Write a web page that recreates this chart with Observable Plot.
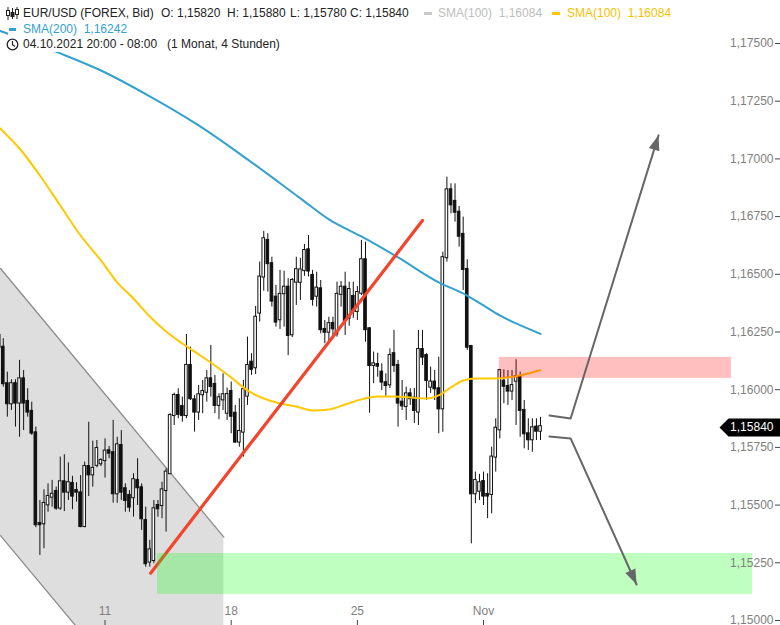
<!DOCTYPE html>
<html><head><meta charset="utf-8">
<script src="https://cdn.jsdelivr.net/npm/d3@7"></script>
<script src="https://cdn.jsdelivr.net/npm/@observablehq/plot@0.6"></script>
<style>
body{margin:0;background:#fff;font-family:"Liberation Sans",Arial,sans-serif;}
#wrap{position:relative;width:780px;height:625px;overflow:hidden;background:#fff}
#wrap svg{display:block}
.row{position:absolute;background:#fff;height:15px}
.t{position:absolute;top:0;font-size:12px;line-height:15px;white-space:pre;color:#222}
.dash{position:absolute;height:3px;top:6px}
</style></head><body><div id="wrap"></div>
<script>
// ---- data: EUR/USD 4h candles (index 0 = 04.10.2021 20:00) ----
const open=[1.16235,1.16184,1.16026,1.15939,1.16026,1.15942,1.16047,1.15949,1.15906,1.15813,1.15420,1.15419,1.15501,1.15534,1.15559,1.15487,1.15601,1.15556,1.15594,1.15563,1.15553,1.15407,1.15667,1.15631,1.15672,1.15679,1.15693,1.15735,1.15727,1.15549,1.15758,1.15571,1.15542,1.15532,1.15607,1.15575,1.15433,1.15253,1.15260,1.15498,1.15498,1.15563,1.15636,1.15888,1.15975,1.15927,1.15888,1.16105,1.15956,1.15903,1.15978,1.15989,1.16047,1.16023,1.15932,1.15956,1.15898,1.15992,1.15898,1.15773,1.15816,1.15972,1.16119,1.16095,1.16332,1.16488,1.16647,1.16546,1.16401,1.16303,1.16416,1.16444,1.16238,1.16466,1.16465,1.16516,1.16606,1.16495,1.16405,1.16437,1.16261,1.16249,1.16287,1.16242,1.16413,1.16444,1.16309,1.16404,1.16339,1.16418,1.16563,1.16264,1.16105,1.16109,1.16076,1.16030,1.16021,1.16156,1.16105,1.15946,1.15927,1.15982,1.15963,1.15903,1.16174,1.16148,1.16011,1.16033,1.16004,1.15917,1.16572,1.16866,1.16816,1.16769,1.16673,1.16521,1.16187,1.15549,1.15560,1.15602,1.15546,1.15546,1.15708,1.15826,1.16037,1.16014,1.15994,1.16037,1.16057,1.15910,1.15809,1.15783,1.15838,1.15820];
const high=[1.16291,1.16221,1.16076,1.16043,1.16043,1.16127,1.16083,1.16004,1.15946,1.15838,1.15520,1.15566,1.15592,1.15607,1.15578,1.15708,1.15718,1.15683,1.15625,1.15597,1.15628,1.15686,1.15859,1.15777,1.15780,1.15701,1.15787,1.15754,1.15867,1.15794,1.15823,1.15592,1.15563,1.15636,1.15701,1.15592,1.15491,1.15347,1.15520,1.15520,1.15599,1.15657,1.15896,1.15985,1.16004,1.15968,1.16239,1.16184,1.15975,1.16018,1.16040,1.16083,1.16192,1.16062,1.15982,1.16069,1.16007,1.16033,1.15932,1.15961,1.16040,1.16228,1.16156,1.16361,1.16553,1.16686,1.16676,1.16574,1.16452,1.16517,1.16514,1.16481,1.16482,1.16574,1.16569,1.16629,1.16668,1.16517,1.16509,1.16473,1.16300,1.16314,1.16314,1.16466,1.16469,1.16509,1.16466,1.16466,1.16447,1.16647,1.16639,1.16268,1.16163,1.16158,1.16112,1.16069,1.16177,1.16257,1.16127,1.16040,1.16011,1.16004,1.16005,1.16257,1.16257,1.16156,1.16098,1.16083,1.16141,1.16596,1.16921,1.16892,1.16892,1.16794,1.16748,1.16563,1.16192,1.15643,1.15633,1.15643,1.15636,1.15751,1.15874,1.16086,1.16086,1.16083,1.16083,1.16130,1.16076,1.15953,1.15874,1.15874,1.15874,1.15880];
const low=[1.16135,1.16011,1.15881,1.15910,1.15838,1.15794,1.15823,1.15881,1.15802,1.15402,1.15282,1.15311,1.15469,1.15491,1.15477,1.15477,1.15472,1.15520,1.15480,1.15513,1.15402,1.15402,1.15537,1.15578,1.15662,1.15667,1.15617,1.15701,1.15508,1.15508,1.15520,1.15469,1.15469,1.15448,1.15498,1.15390,1.15231,1.15231,1.15246,1.15448,1.15441,1.15383,1.15636,1.15845,1.15874,1.15859,1.15874,1.15953,1.15816,1.15867,1.15896,1.15946,1.15968,1.15896,1.15870,1.15910,1.15867,1.15809,1.15768,1.15751,1.15708,1.15932,1.16062,1.16066,1.16293,1.16427,1.16423,1.16358,1.16271,1.16261,1.16271,1.16148,1.16226,1.16365,1.16387,1.16491,1.16488,1.16362,1.16358,1.16242,1.16199,1.16213,1.16235,1.16228,1.16358,1.16235,1.16275,1.16309,1.16300,1.16408,1.16206,1.15898,1.16026,1.16054,1.15997,1.15971,1.16005,1.16075,1.15838,1.15910,1.15867,1.15932,1.15854,1.15845,1.16105,1.15953,1.15984,1.15953,1.15809,1.15816,1.16553,1.16762,1.16726,1.16618,1.16430,1.16170,1.15332,1.15506,1.15520,1.15498,1.15441,1.15462,1.15643,1.15787,1.15939,1.15932,1.15953,1.15845,1.15794,1.15744,1.15737,1.15729,1.15780,1.15780];
const close=[1.16183,1.16026,1.15939,1.16026,1.15942,1.16047,1.15942,1.15903,1.15812,1.15415,1.15415,1.15507,1.15537,1.15547,1.15487,1.15601,1.15556,1.15597,1.15539,1.15556,1.15407,1.15667,1.15631,1.15659,1.15745,1.15693,1.15734,1.15725,1.15549,1.15761,1.15556,1.15520,1.15491,1.15610,1.15575,1.15441,1.15246,1.15306,1.15484,1.15484,1.15566,1.15643,1.15888,1.15975,1.15893,1.15888,1.16105,1.15961,1.15903,1.15978,1.15992,1.16047,1.16014,1.15932,1.15965,1.15978,1.15979,1.15885,1.15773,1.15819,1.16000,1.16105,1.16088,1.16314,1.16488,1.16654,1.16546,1.16384,1.16293,1.16413,1.16444,1.16235,1.16473,1.16520,1.16519,1.16603,1.16514,1.16391,1.16440,1.16260,1.16249,1.16286,1.16264,1.16413,1.16444,1.16300,1.16434,1.16339,1.16421,1.16563,1.16260,1.16105,1.16112,1.16102,1.16033,1.16018,1.16148,1.16105,1.15942,1.15930,1.15982,1.15961,1.15910,1.16174,1.16141,1.16040,1.16033,1.16004,1.15917,1.16572,1.16866,1.16801,1.16769,1.16665,1.16521,1.16184,1.15549,1.15607,1.15597,1.15539,1.15539,1.15708,1.15833,1.16083,1.16015,1.15994,1.16018,1.16057,1.15910,1.15809,1.15783,1.15835,1.15820,1.15840];

const sma200Idx=[0,8,15,25,37,49,61,74,81,89,98,108,115,119,123,127,133];
const sma200=[1.17556,1.17505,1.17457,1.17383,1.17271,1.17145,1.16998,1.16829,1.16738,1.16664,1.16573,1.16465,1.16408,1.16365,1.16322,1.16287,1.16242];
const sma100Idx=[0,5,10,15,20,25,29,33,37,41,45,49,53,57,61,65,69,73,77,81,85,89,93,97,101,105,108,111,114,117,121,125,129,133];
const sma100=[1.17136,1.17045,1.16928,1.16798,1.16668,1.16560,1.16465,1.16395,1.16317,1.16252,1.16200,1.16153,1.16105,1.16053,1.15997,1.15962,1.15940,1.15927,1.15910,1.15914,1.15936,1.15958,1.15971,1.15971,1.15966,1.15962,1.15975,1.16010,1.16040,1.16049,1.16049,1.16053,1.16066,1.16084];

const xTickIdx=[26,57,88,119];
const xTickLabels=["11","18","25","Nov"];
const yTicks=[1.15,1.1525,1.155,1.1575,1.16,1.1625,1.165,1.1675,1.17,1.1725,1.175];

// annotations (index / price)
const channelIdx=[0.32,55.2];
const channelTop=[1.16525,1.15361];
const channelBottom=[1.15368,1.14207];
const trendIdx=[37.2,104.0];
const trendPrice=[1.15205,1.16733];
const supportIdx=[38.9,185.1];
const supportPrice=[1.15113,1.15290];
const resistIdx=[122.9,179.9];
const resistPrice=[1.16049,1.16140];
const upArrowIdx=[135.2,140.4,162.0];
const upArrowPrice=[1.15888,1.15875,1.17102];
const downArrowIdx=[135.2,140.4,156.6];
const downArrowPrice=[1.15797,1.15789,1.15156];

// ---- build ----
const W=780,H=625;
const xDomain=[1.3/4.07,781.3/4.07];
const yDomain=[1.149783,1.176863];
const candles=open.map((o,i)=>({i,o,h:high[i],l:low[i],c:close[i],up:close[i]>=o}));
const pts=(xs,ys)=>xs.map((x,k)=>({x,y:ys[k]}));
const channel=channelIdx.map((x,k)=>({x,t:channelTop[k],b:channelBottom[k]}));
const sx=d3.scaleLinear(xDomain,[0,W]), sy=d3.scaleLinear(yDomain,[H,0]);
function headAngle(xs,ys){const n=xs.length;const dx=sx(xs[n-1])-sx(xs[n-2]);const dy=sy(ys[n-1])-sy(ys[n-2]);return Math.atan2(dx,-dy)*180/Math.PI;}
const arrowHead={draw(ctx){ctx.moveTo(0,0);ctx.lineTo(5.5,15);ctx.lineTo(-5.5,15);ctx.closePath();}};
const tagSym={draw(ctx){ctx.moveTo(-61,0);ctx.lineTo(-52,-9);ctx.lineTo(0,-9);ctx.lineTo(0,9);ctx.lineTo(-52,9);ctx.closePath();}};
const fmt=v=>d3.format(".5f")(v).replace(".",",");
const heads=[
  {x:upArrowIdx[2],y:upArrowPrice[2],r:headAngle(upArrowIdx,upArrowPrice)},
  {x:downArrowIdx[2],y:downArrowPrice[2],r:headAngle(downArrowIdx,downArrowPrice)}
];
const last=close[close.length-1];

const chart=Plot.plot({
  width:W,height:H,margin:0,
  x:{type:"linear",domain:xDomain,axis:null},
  y:{type:"linear",domain:yDomain,axis:null},
  style:{fontFamily:"'Liberation Sans',Arial,sans-serif",fontSize:"12px",background:"#fff"},
  marks:[
    Plot.areaY(channel,{x:"x",y1:"b",y2:"t",fill:"#dedede",clip:true}),
    Plot.line(pts(channelIdx,channelTop),{x:"x",y:"y",stroke:"#8c8c8c",strokeWidth:1.3,clip:true}),
    Plot.line(pts(channelIdx,channelBottom),{x:"x",y:"y",stroke:"#8c8c8c",strokeWidth:1.3,clip:true}),
    Plot.ruleX(candles,{x:"i",y1:"l",y2:"h",stroke:"#111",strokeWidth:1}),
    Plot.rect(candles,{x1:d=>d.i-0.32,x2:d=>d.i+0.32,y1:"o",y2:"c",fill:d=>d.up?"#fff":"#111",stroke:"#111",strokeWidth:1,insetTop:-0.5,insetBottom:-0.5}),
    Plot.line(pts(sma200Idx,sma200),{x:"x",y:"y",stroke:"#33a1cf",strokeWidth:2,curve:"monotone-x"}),
    Plot.line(pts(sma100Idx,sma100),{x:"x",y:"y",stroke:"#ffc800",strokeWidth:2,curve:"monotone-x"}),
    Plot.line(pts(trendIdx,trendPrice),{x:"x",y:"y",stroke:"#f4442c",strokeWidth:3.2}),
    Plot.rect([0],{x1:()=>supportIdx[0],x2:()=>supportIdx[1],y1:()=>supportPrice[0],y2:()=>supportPrice[1],fill:"#00ff00",fillOpacity:0.25}),
    Plot.rect([0],{x1:()=>resistIdx[0],x2:()=>resistIdx[1],y1:()=>resistPrice[0],y2:()=>resistPrice[1],fill:"#ff0000",fillOpacity:0.25}),
    Plot.line(pts(upArrowIdx,upArrowPrice),{x:"x",y:"y",stroke:"#666",strokeWidth:2}),
    Plot.line(pts(downArrowIdx,downArrowPrice),{x:"x",y:"y",stroke:"#666",strokeWidth:2}),
    Plot.dot(heads,{x:"x",y:"y",rotate:"r",symbol:arrowHead,fill:"#666",stroke:"none",r:5}),
    Plot.tickY(yTicks,{y:d=>d,insetLeft:775,stroke:"#444"}),
    Plot.text(yTicks,{y:d=>d,text:fmt,frameAnchor:"right",textAnchor:"end",dx:-7,fill:"#808080"}),
    Plot.tickX(xTickIdx,{x:d=>d,insetTop:620,stroke:"#444"}),
    Plot.text(xTickIdx,{x:d=>d,text:(d,k)=>xTickLabels[k],frameAnchor:"bottom",dy:-11,fill:"#808080"}),
    Plot.dot([last],{y:d=>d,frameAnchor:"right",symbol:tagSym,fill:"#000",stroke:"none",r:5,dy:1}),
    Plot.text([last],{y:d=>d,text:fmt,frameAnchor:"right",textAnchor:"end",dx:-7,dy:1,fill:"#fff"})
  ]
});
const wrap=document.getElementById("wrap");
wrap.appendChild(chart);

// ---- header (legend) ----
const hdr=`
<div class="row" style="left:2px;top:6px;width:672px">
  <svg style="position:absolute;left:4px;top:1px" width="13" height="13" viewBox="0 0 13 13">
    <g stroke="#222" stroke-width="1" fill="none">
      <line x1="2" y1="0" x2="2" y2="13"/><rect x="0.5" y="3.5" width="3" height="5" fill="#fff"/>
      <line x1="6.5" y1="1" x2="6.5" y2="12"/><rect x="5" y="5.5" width="3" height="4" fill="#222"/>
      <line x1="11" y1="0" x2="11" y2="12"/><rect x="9.5" y="2.5" width="3" height="5" fill="#fff"/>
    </g></svg>
  <span class="t" style="left:21px">EUR/USD (FOREX, Bid)</span>
  <span class="t" style="left:159px">O: 1,15820</span>
  <span class="t" style="left:225px">H: 1,15880</span>
  <span class="t" style="left:288px">L: 1,15780</span>
  <span class="t" style="left:348px">C: 1,15840</span>
  <span class="dash" style="left:422px;width:8px;background:#c8c8c8"></span>
  <span class="t" style="left:436px;color:#bdbdbd">SMA(100)  1,16084</span>
  <span class="dash" style="left:550px;width:8px;background:#ffc800"></span>
  <span class="t" style="left:565px;color:#f5c200">SMA(100)  1,16084</span>
</div>
<div class="row" style="left:8px;top:22px;width:122px">
  <span class="dash" style="left:1px;width:7px;background:#33a1cf"></span>
  <span class="t" style="left:15px;color:#33a1cf">SMA(200)  1,16242</span>
</div>
<div class="row" style="left:4px;top:37px;width:282px">
  <svg style="position:absolute;left:2px;top:1px" width="13" height="13" viewBox="0 0 13 13">
    <circle cx="6.5" cy="6.5" r="5.3" stroke="#222" stroke-width="1.3" fill="none"/>
    <polyline points="6.5,3 6.5,6.8 9,8.5" stroke="#222" stroke-width="1.2" fill="none"/>
  </svg>
  <span class="t" style="left:19px">04.10.2021 20:00 - 08:00   (1 Monat, 4 Stunden)</span>
</div>`;
wrap.insertAdjacentHTML("beforeend",hdr);
</script>
</body></html>
